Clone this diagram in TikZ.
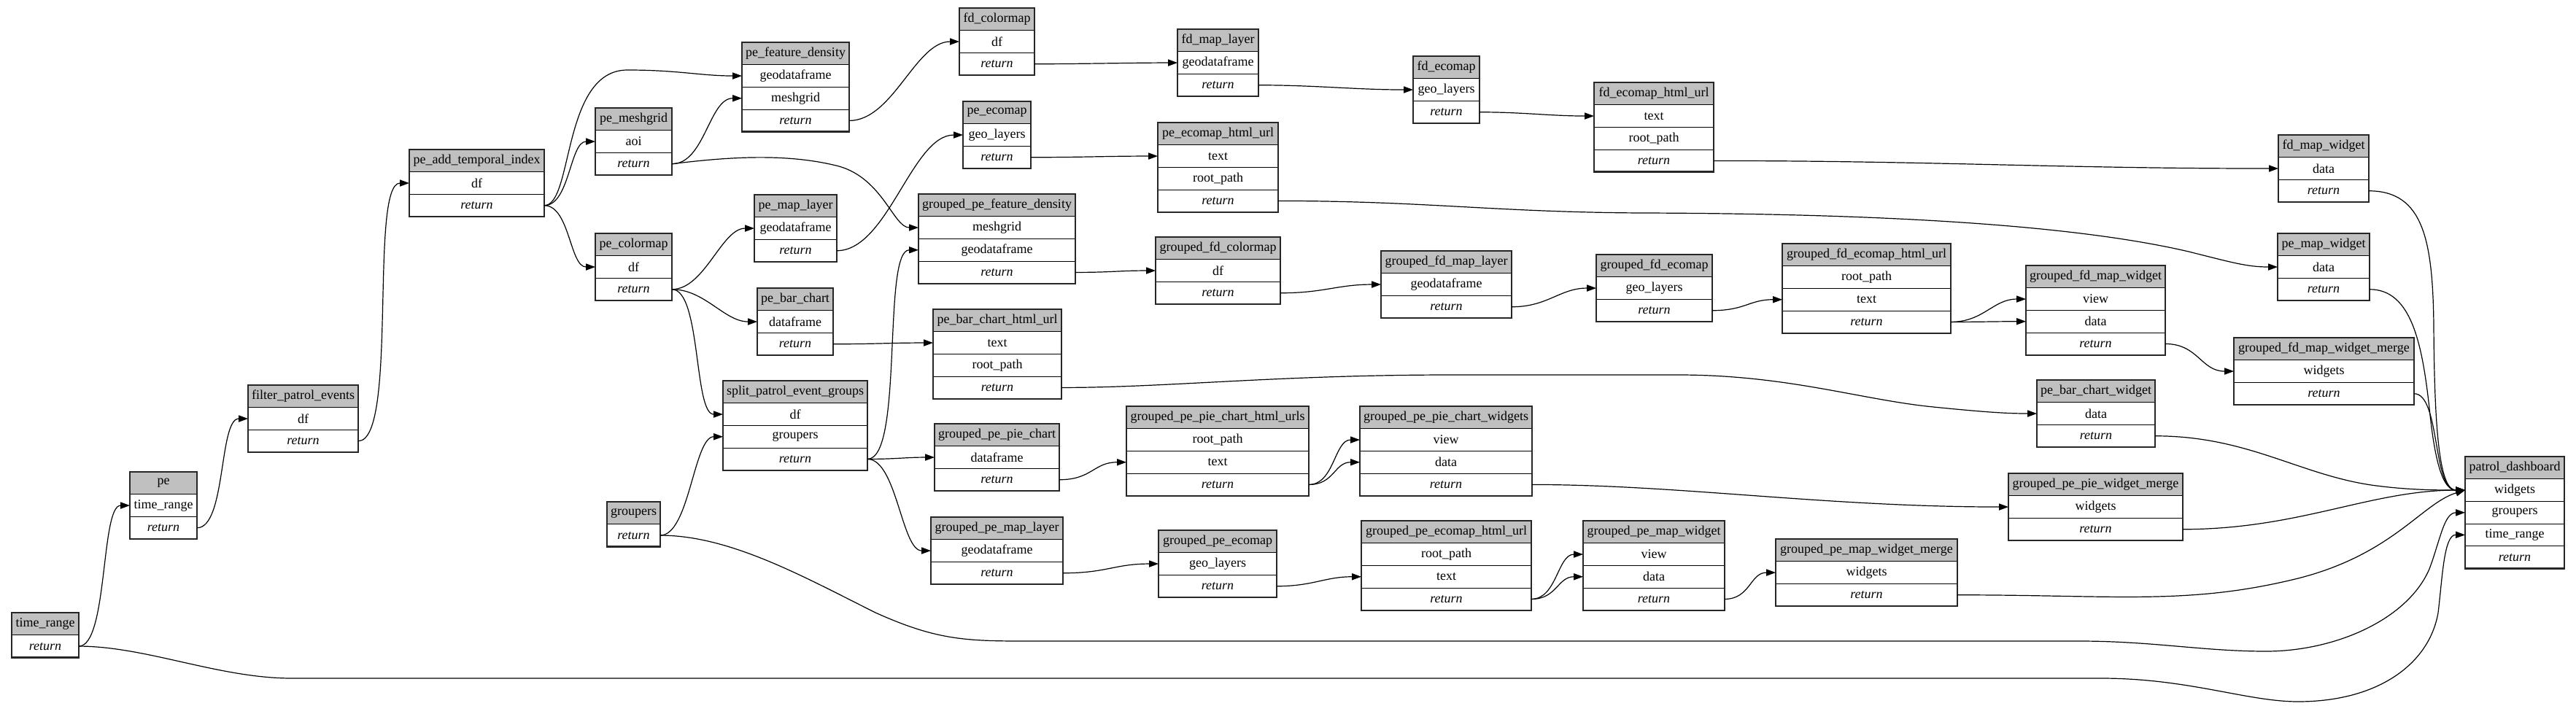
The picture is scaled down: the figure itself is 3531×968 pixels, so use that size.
\documentclass[tikz,border=0pt]{standalone}
\usepackage{fontspec}
\setmainfont{Liberation Serif}
\usetikzlibrary{arrows.meta,calc}
\definecolor{hdrgray}{HTML}{C0C0C0}
\tikzset{
  cellb/.style={draw=black, line width=0.5pt, inner sep=0pt, outer sep=0pt,
    minimum height=15.35pt, font=\fontsize{9}{10}\selectfont, text=black},
  hdr/.style={cellb, fill=hdrgray},
  cell/.style={cellb, fill=white},
  outerb/.style={draw=black!85, line width=1.3pt},
  conn/.style={draw=black, line width=0.6pt, -{Triangle[length=6.5pt,width=4.6pt]}}
}
% #1 id, #2 left, #3 top, #4 width (px), #5 title, #6 rows id/label
\newcommand\mytable[6]{%
  \node[hdr, minimum width=#4*0.5pt, anchor=north west] (#1) at (#2,#3) {#5};
  \foreach \k/\lab [count=\i] in {#6}{%
    \node[cell, minimum width=#4*0.5pt, anchor=north west] (#1-\k) at (#2,{#3+\i*30.7}) {\lab};
  }%
  \draw[outerb] (#1.north west) rectangle (#1-ret.south east);
}
\newcommand\fconn[3]{\draw[conn] (#1.east) .. controls +(#3,0) and +(-#3,0) .. (#2.west);}
\begin{document}
\begin{tikzpicture}[x=0.5pt,y=-0.5pt]
\useasboundingbox (0,0) rectangle (3531,968);
\fill[white] (0,0) rectangle (3531,968);

\mytable{tr}{16}{840}{92}{time\_range}{ret/\textit{return}}
\mytable{pe}{178}{647}{92}{pe}{tr/time\_range,ret/\textit{return}}
\mytable{fpe}{340}{528}{151}{filter\_patrol\_events}{df/df,ret/\textit{return}}
\mytable{pati}{561}{205}{185}{pe\_add\_temporal\_index}{df/df,ret/\textit{return}}
\mytable{pmg}{816}{148}{105}{pe\_meshgrid}{aoi/aoi,ret/\textit{return}}
\mytable{pcm}{816}{320}{105}{pe\_colormap}{df/df,ret/\textit{return}}
\mytable{grp}{832}{688}{73}{groupers}{ret/\textit{return}}
\mytable{pfd}{1017}{58}{147}{pe\_feature\_density}{gdf/geodataframe,mg/meshgrid,ret/\textit{return}}
\mytable{pml}{1034}{267}{113}{pe\_map\_layer}{gdf/geodataframe,ret/\textit{return}}
\mytable{pbc}{1038}{395}{104}{pe\_bar\_chart}{dfr/dataframe,ret/\textit{return}}
\mytable{spg}{991}{522}{198}{split\_patrol\_event\_groups}{df/df,g/groupers,ret/\textit{return}}
\mytable{fdc}{1315}{11}{103}{fd\_colormap}{df/df,ret/\textit{return}}
\mytable{pec}{1320}{139}{93}{pe\_ecomap}{gl/geo\_layers,ret/\textit{return}}
\mytable{gpfd}{1259}{266}{215}{grouped\_pe\_feature\_density}{mg/meshgrid,gdf/geodataframe,ret/\textit{return}}
\mytable{pbchu}{1279}{424}{176}{pe\_bar\_chart\_html\_url}{text/text,rp/root\_path,ret/\textit{return}}
\mytable{gppc}{1281}{581}{171}{grouped\_pe\_pie\_chart}{dfr/dataframe,ret/\textit{return}}
\mytable{gpml}{1276}{709}{181}{grouped\_pe\_map\_layer}{gdf/geodataframe,ret/\textit{return}}
\mytable{fdml}{1614}{40}{111}{fd\_map\_layer}{gdf/geodataframe,ret/\textit{return}}
\mytable{pehu}{1587}{168}{165}{pe\_ecomap\_html\_url}{text/text,rp/root\_path,ret/\textit{return}}
\mytable{gfdc}{1584}{325}{171}{grouped\_fd\_colormap}{df/df,ret/\textit{return}}
\mytable{gppchu}{1544}{557}{250}{grouped\_pe\_pie\_chart\_html\_urls}{rp/root\_path,text/text,ret/\textit{return}}
\mytable{gpe}{1588}{727}{162}{grouped\_pe\_ecomap}{gl/geo\_layers,ret/\textit{return}}
\mytable{fde}{1937}{77}{91}{fd\_ecomap}{gl/geo\_layers,ret/\textit{return}}
\mytable{gfdml}{1893}{344}{179}{grouped\_fd\_map\_layer}{gdf/geodataframe,ret/\textit{return}}
\mytable{gppcw}{1864}{557}{236}{grouped\_pe\_pie\_chart\_widgets}{view/view,data/data,ret/\textit{return}}
\mytable{gpehu}{1866}{714}{233}{grouped\_pe\_ecomap\_html\_url}{rp/root\_path,text/text,ret/\textit{return}}
\mytable{fdehu}{2185}{113}{164}{fd\_ecomap\_html\_url}{text/text,rp/root\_path,ret/\textit{return}}
\mytable{gfde}{2188}{349}{159}{grouped\_fd\_ecomap}{gl/geo\_layers,ret/\textit{return}}
\mytable{gpmw}{2170}{714}{194}{grouped\_pe\_map\_widget}{view/view,data/data,ret/\textit{return}}
\mytable{gfdehu}{2443}{334}{231}{grouped\_fd\_ecomap\_html\_url}{rp/root\_path,text/text,ret/\textit{return}}
\mytable{gpmwm}{2434}{739}{249}{grouped\_pe\_map\_widget\_merge}{w/widgets,ret/\textit{return}}
\mytable{gfdmw}{2777}{364}{191}{grouped\_fd\_map\_widget}{view/view,data/data,ret/\textit{return}}
\mytable{pbcw}{2792}{521}{162}{pe\_bar\_chart\_widget}{data/data,ret/\textit{return}}
\mytable{gppwm}{2753}{649}{239}{grouped\_pe\_pie\_widget\_merge}{w/widgets,ret/\textit{return}}
\mytable{fdmw}{3123}{185}{124}{fd\_map\_widget}{data/data,ret/\textit{return}}
\mytable{pmw}{3122}{320}{126}{pe\_map\_widget}{data/data,ret/\textit{return}}
\mytable{gfdmwm}{3062}{463}{247}{grouped\_fd\_map\_widget\_merge}{w/widgets,ret/\textit{return}}
\mytable{pd}{3379}{626}{136}{patrol\_dashboard}{w/widgets,g/groupers,tr/time\_range,ret/\textit{return}}

% connectors
\fconn{tr-ret}{pe-tr}{40}
\fconn{pe-ret}{fpe-df}{40}
\fconn{fpe-ret}{pati-df}{55}
\draw[conn] (pati-ret.east) .. controls +(40,0) and (770,96) .. (860,96) .. controls (930,96) and (960,104) .. (pfd-gdf.west);
\fconn{pati-ret}{pmg-aoi}{35}
\fconn{pati-ret}{pcm-df}{35}
\fconn{pmg-ret}{pfd-mg}{45}
\draw[conn] (pmg-ret.east) .. controls +(80,-10) and (1080,210) .. (1150,228) .. controls (1210,245) and (1225,312) .. (gpfd-mg.west);
\fconn{pfd-ret}{fdc-df}{60}
\fconn{fdc-ret}{fdml-gdf}{60}
\fconn{fdml-ret}{fde-gl}{80}
\fconn{fde-ret}{fdehu-text}{60}
\fconn{fdehu-ret}{fdmw-data}{300}
\draw[conn] (fdmw-ret.east) .. controls +(75,0) and (3335,330) .. (3336,450) .. controls (3337,600) and (3345,672) .. (pd-w.west);
\fconn{pcm-ret}{pml-gdf}{45}
\fconn{pcm-ret}{pbc-dfr}{45}
\fconn{pcm-ret}{spg-df}{40}
\fconn{pml-ret}{pec-gl}{70}
\fconn{pec-ret}{pehu-text}{70}
\draw[conn] (pehu-ret.east) .. controls +(200,0) and (2050,291) .. (2250,292) .. controls (2600,293) and (2850,310) .. (3000,345) .. controls (3060,360) and (3080,366) .. (pmw-data.west);
\draw[conn] (pmw-ret.east) .. controls +(57,0) and (3320,470) .. (3330,560) .. controls (3338,640) and (3350,672) .. (pd-w.west);
\fconn{pbc-ret}{pbchu-text}{60}
\draw[conn] (pbchu-ret.east) .. controls +(145,0) and (1750,514) .. (1990,514) -- (2300,514) .. controls (2450,514) and (2550,548) .. (2650,558) .. controls (2720,565) and (2750,567) .. (pbcw-data.west);
\draw[conn] (pbcw-ret.east) .. controls +(126,0) and (3150,650) .. (3250,665) .. controls (3300,672) and (3340,672) .. (pd-w.west);
\fconn{spg-ret}{gpfd-gdf}{50}
\fconn{spg-ret}{gppc-dfr}{40}
\fconn{spg-ret}{gpml-gdf}{40}
\fconn{grp-ret}{spg-g}{40}
\draw[conn] (grp-ret.east) .. controls +(95,0) and (1100,790) .. (1200,840) .. controls (1280,876) and (1320,879) .. (1400,879) -- (2850,879) .. controls (2950,879) and (3020,893) .. (3106,893) .. controls (3200,893) and (3300,850) .. (3330,780) .. controls (3345,740) and (3350,703) .. (pd-g.west);
\draw[conn] (tr-ret.east) .. controls +(92,0) and (300,930) .. (400,930) -- (2880,930) .. controls (3000,930) and (3080,962) .. (3150,962) .. controls (3260,962) and (3330,910) .. (3342,840) .. controls (3348,790) and (3350,733) .. (pd-tr.west);
\fconn{gpfd-ret}{gfdc-df}{50}
\fconn{gfdc-ret}{gfdml-gdf}{60}
\fconn{gfdml-ret}{gfde-gl}{50}
\fconn{gfde-ret}{gfdehu-text}{45}
\fconn{gfdehu-ret}{gfdmw-view}{45}
\fconn{gfdehu-ret}{gfdmw-data}{45}
\fconn{gfdmw-ret}{gfdmwm-w}{45}
\draw[conn] (gfdmwm-ret.east) .. controls +(36,0) and +(-45,0) .. (pd-w.west);
\fconn{gppc-ret}{gppchu-text}{45}
\fconn{gppchu-ret}{gppcw-view}{35}
\fconn{gppchu-ret}{gppcw-data}{35}
\draw[conn] (gppcw-ret.east) .. controls +(200,0) and +(-250,0) .. (gppwm-w.west);
\draw[conn] (gppwm-ret.east) .. controls +(160,0) and +(-130,0) .. (pd-w.west);
\fconn{gpml-ret}{gpe-gl}{60}
\fconn{gpe-ret}{gpehu-text}{50}
\fconn{gpehu-ret}{gpmw-view}{35}
\fconn{gpehu-ret}{gpmw-data}{35}
\fconn{gpmw-ret}{gpmwm-w}{35}
\draw[conn] (gpmwm-ret.east) .. controls +(220,0) and (3000,830) .. (3150,793) .. controls (3280,760) and (3320,690) .. (pd-w.west);
\end{tikzpicture}
\end{document}
